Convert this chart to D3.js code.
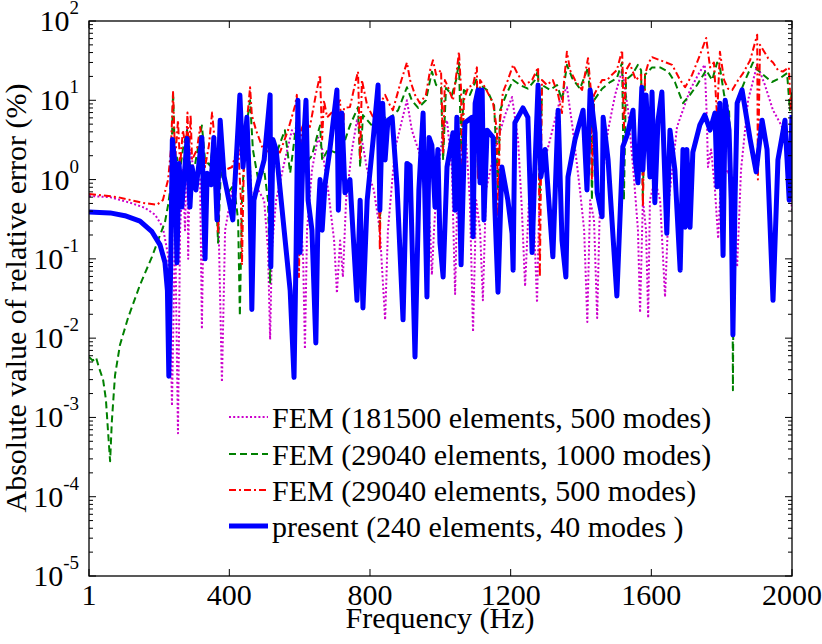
<!DOCTYPE html>
<html>
<head>
<meta charset="utf-8">
<script src="https://cdn.jsdelivr.net/npm/d3@7"></script>
<style>
  html, body { margin: 0; padding: 0; background: #fff; }
</style>
</head>
<body>
<svg id="chart" width="822" height="644"></svg>
<script>
// ---------------- data (frequency in Hz, absolute relative error in %) ----------------
const xTickValues = [1, 400, 800, 1200, 1600, 2000];
const yTickExponents = [-5, -4, -3, -2, -1, 0, 1, 2];
const seriesNames = [
  "FEM (181500 elements, 500 modes)",
  "FEM (29040 elements, 1000 modes)",
  "FEM (29040 elements, 500 modes)",
  "present (240 elements, 40 modes )"
];

const fem181500_500 = [
  [1,0.62],[61,0.6],[118,0.51],[160,0.44],[189,0.36],[211,0.25],[226,0.11],[231,0.03],[237,0.0014],
  [243,0.054],[246,0.55],[248,0.054],[254,0.00063],[260,0.23],[268,1.32],[274,0.23],[280,4.6],[283,0.1],
  [288,2.4],[302,1.15],[317,1.0],[322,0.013],[328,1.0],[345,1.15],[356,2.4],[368,0.55],[379,0.0028],
  [388,0.23],[408,0.74],[430,2.4],[445,4.6],[453,4.6],[464,0.55],[482,0.74],[499,0.55],[510,0.13],
  [516,0.0096],[521,0.13],[533,0.55],[558,1.77],[578,4.2],[592,3.2],[601,0.55],[610,0.097],[615,0.0073],
  [621,0.23],[635,1.32],[652,3.4],[664,2.4],[681,0.74],[698,0.17],[706,0.037],[715,0.17],[723,0.059],
  [732,0.55],[749,2.4],[763,5.6],[775,3.6],[792,1.32],[811,0.74],[828,0.23],[843,0.017],[851,0.23],
  [871,2.4],[891,5.6],[905,10],[919,4.2],[937,2.4],[956,1.32],[971,0.23],[976,0.063],[982,0.23],
  [991,1.0],[1008,4.2],[1019,5.6],[1033,1.32],[1042,0.036],[1050,1.32],[1070,5.2],[1084,0.55],
  [1093,0.012],[1102,0.55],[1113,0.23],[1121,0.03],[1130,0.74],[1155,2.4],[1184,6.5],[1204,11],
  [1221,3.2],[1232,0.41],[1241,0.045],[1252,0.55],[1266,0.31],[1275,0.028],[1283,1.0],[1312,3.2],
  [1340,10],[1360,14.6],[1377,4.2],[1397,0.74],[1409,0.23],[1418,0.016],[1426,0.55],[1437,0.31],
  [1446,0.018],[1454,0.55],[1477,4.2],[1497,11.7],[1517,24],[1534,7.5],[1551,1.0],[1562,0.23],
  [1568,0.021],[1576,0.55],[1585,0.23],[1591,0.018],[1596,0.55],[1610,1.0],[1625,0.55],[1639,0.033],
  [1650,0.55],[1673,4.6],[1710,13.5],[1738,23],[1752,28],[1758,5.6],[1761,1.44],[1770,2.4],[1781,0.74],
  [1790,0.18],[1798,1.0],[1818,1.32],[1832,0.55],[1844,0.079],[1855,1.32],[1875,10],[1901,28],
  [1923,15.6],[1946,7.5],[1969,4.9],[1986,3.2],[2000,0.41]
];

const fem29040_1000 = [
  [1,0.0058],[12,0.0052],[21,0.0057],[29,0.0043],[41,0.003],[49,0.0017],[55,0.00068],[61,0.00028],
  [66,0.0009],[75,0.0034],[89,0.0082],[112,0.018],[146,0.047],[180,0.106],[203,0.2],[217,0.29],
  [226,0.48],[234,0.86],[240,12.7],[246,1.5],[251,1.9],[260,1.32],[268,2.4],[280,4.2],[288,1.5],
  [302,1.5],[322,4.8],[331,1.77],[345,1.5],[356,3.2],[368,0.16],[376,1.32],[396,0.68],[413,0.86],
  [425,0.31],[430,0.019],[436,0.55],[447,4.2],[459,10],[467,2.4],[482,1.0],[499,1.32],[510,0.55],
  [516,0.05],[521,1.0],[538,2.4],[558,4.2],[573,1.21],[592,5.6],[601,1.0],[612,1.5],[635,2.0],
  [652,3.9],[658,4.8],[664,1.77],[681,2.4],[700,2.2],[720,2.4],[743,4.8],[766,8.2],[772,1.44],
  [780,6.5],[809,4.6],[823,8.0],[828,0.23],[834,6.5],[851,5.6],[880,7.5],[905,14.6],[919,10],
  [937,8.0],[959,10],[976,23],[988,15.6],[1002,14.6],[1008,1.77],[1016,14.3],[1033,11.7],[1045,18],
  [1053,30],[1059,2.4],[1067,13.5],[1084,11.7],[1104,19],[1107,1.32],[1113,15.6],[1133,13.5],
  [1153,8.6],[1164,0.74],[1170,7.5],[1187,11.7],[1207,18],[1227,15.6],[1249,14],[1269,18],[1278,24],
  [1283,0.55],[1289,15.6],[1312,13.5],[1332,15.6],[1346,10],[1360,28],[1375,19],[1397,14],[1420,26],
  [1428,7.5],[1431,0.55],[1437,10],[1460,14],[1483,17],[1502,19],[1517,30],[1522,0.55],[1528,18],
  [1545,21],[1562,28],[1571,24],[1576,0.55],[1582,21],[1602,26],[1625,26],[1648,23],[1667,17],
  [1690,9.2],[1710,11.7],[1730,15.6],[1756,24],[1773,18],[1787,30],[1795,26],[1807,11.7],[1821,7.5],
  [1830,0.55],[1832,0.0022],[1835,0.55],[1844,10],[1867,18],[1889,30],[1903,24],[1918,21],[1943,17],
  [1966,19],[1986,22],[1994,7.5],[2000,13.5]
];

const fem29040_500 = [
  [1,0.66],[83,0.6],[152,0.51],[194,0.48],[211,0.55],[226,1.0],[234,2.4],[240,12.7],[246,1.77],
  [254,5.6],[260,1.5],[268,4.2],[277,2.4],[281,7],[285,1.77],[290,6.5],[294,1.77],[308,2.4],[317,4.6],
  [325,2.4],[331,1.44],[342,2.7],[351,7],[357,3.6],[368,0.21],[374,3.2],[388,1.32],[408,1.44],
  [425,2.7],[433,0.55],[436,0.084],[442,2.4],[453,7.5],[459,14.6],[464,6.5],[476,4.2],[496,2.4],
  [516,2.2],[530,2.3],[544,2.2],[567,4.2],[587,8.6],[592,11.7],[598,0.059],[604,4.2],[615,5.6],
  [629,4.6],[646,11.7],[658,21],[664,3.2],[669,10],[678,6.1],[698,7.5],[715,10],[721,1.44],[726,8],
  [743,8.2],[760,18],[766,23],[772,1.77],[777,18],[792,8.6],[809,6.1],[823,10],[828,0.13],[834,10],
  [843,11.7],[857,8.6],[865,7.5],[885,15.6],[905,30],[914,18],[928,11.7],[942,9.2],[959,11.7],[971,24],
  [979,32],[988,21],[1002,24],[1008,2.2],[1013,18],[1022,14.6],[1036,10],[1047,24],[1053,41],
  [1059,13.5],[1062,0.81],[1067,10],[1079,14.6],[1093,15.6],[1104,26],[1107,1.0],[1113,18],
  [1127,14.6],[1150,9.2],[1161,4.2],[1164,0.34],[1170,5.6],[1178,12.7],[1192,18],[1207,28],[1221,21],
  [1241,15.6],[1261,18],[1278,26],[1283,0.059],[1289,18],[1303,15.6],[1320,18],[1335,11.7],[1346,6.9],
  [1352,18],[1360,41],[1369,24],[1383,18],[1403,13.5],[1420,34],[1428,13.5],[1431,1.0],[1437,11.7],
  [1460,18],[1474,18],[1488,21],[1502,24],[1517,43],[1522,4.5],[1528,24],[1539,29],[1556,18],[1571,21],
  [1576,0.45],[1582,21],[1591,29],[1602,35],[1625,32],[1642,30],[1659,28],[1682,18],[1696,14.6],
  [1716,21],[1738,37],[1756,61],[1767,26],[1778,30],[1787,6.1],[1795,41],[1807,18],[1818,14],
  [1830,13.5],[1847,18],[1861,22],[1881,32],[1901,67],[1903,1.0],[1909,50],[1918,43],[1932,34],
  [1946,30],[1960,24],[1974,23],[1991,26],[1997,7.5],[2000,11.7]
];

const present240_40 = [
  [1,0.39],[61,0.38],[103,0.35],[146,0.30],[180,0.22],[203,0.15],[217,0.09],[224,0.04],[228,0.0033],
  [234,0.13],[238,3.2],[246,1.5],[251,0.089],[257,1.6],[265,0.45],[280,3.3],[288,0.45],[294,1.44],
  [305,0.74],[322,3.4],[331,0.1],[337,1.2],[348,0.86],[356,3.4],[365,0.31],[374,5.6],[385,1.1],
  [410,0.31],[430,11.7],[439,1.44],[450,6.1],[459,0.55],[464,0.023],[470,0.55],[479,0.81],[499,1.77],
  [516,11.7],[518,0.079],[524,3.2],[533,2.4],[553,0.31],[573,0.04],[584,0.0032],[590,0.13],[595,10],
  [601,0.12],[610,2.4],[618,10],[624,0.55],[635,0.23],[646,0.0087],[652,0.31],[658,1.0],[664,0.23],
  [672,0.86],[686,2.4],[706,13.5],[710,0.41],[720,6.9],[729,0.68],[743,1.0],[763,0.03],[772,0.55],
  [780,0.024],[792,0.55],[809,3.2],[823,15.6],[828,0.41],[836,9.2],[843,1.77],[851,5.6],[863,6.1],
  [877,0.81],[894,0.017],[905,1.6],[914,1.5],[928,0.0058],[939,0.74],[951,6.9],[962,0.033],[968,3.4],
  [976,2.7],[985,0.45],[993,2.4],[999,0.16],[1008,0.059],[1019,1.44],[1036,3.9],[1042,0.41],[1047,6.1],
  [1053,1.3],[1059,0.084],[1070,5.2],[1090,6.1],[1093,0.19],[1099,9.2],[1107,13.5],[1113,0.91],
  [1119,13.5],[1124,0.31],[1133,4.2],[1150,3.4],[1155,0.45],[1164,0.038],[1175,1.44],[1192,0.55],
  [1204,0.21],[1207,0.072],[1212,5.2],[1235,8.0],[1249,6.1],[1261,0.12],[1269,1.44],[1278,15.6],
  [1286,1.08],[1298,2.4],[1320,0.106],[1335,7.5],[1346,0.17],[1357,0.059],[1363,1.08],[1383,3.2],
  [1406,7.5],[1417,0.74],[1426,13.5],[1440,3.9],[1446,0.68],[1460,0.34],[1463,6.1],[1477,1.77],
  [1502,0.034],[1519,2.6],[1531,3.6],[1548,7.5],[1554,1.77],[1562,0.91],[1573,14.6],[1576,1.32],
  [1585,11.7],[1596,1.08],[1602,12.7],[1610,0.51],[1619,5.6],[1630,12.7],[1644,0.21],[1653,4.2],
  [1667,1.32],[1682,0.072],[1690,2.4],[1696,0.25],[1701,2.4],[1710,0.25],[1718,2.2],[1738,4.9],
  [1752,6.5],[1767,4.2],[1781,6.9],[1787,0.81],[1795,9.2],[1804,0.11],[1810,10],[1821,4.2],[1827,0.55],
  [1832,0.011],[1838,0.55],[1844,9.2],[1858,13.5],[1881,3.2],[1898,1.25],[1915,5.6],[1929,2.4],
  [1946,0.03],[1960,1.77],[1980,5.6],[1992,0.55],[2000,6.5]
];

// ---------------- layout ----------------
const FONT = "'Liberation Serif', 'Times New Roman', Tinos, 'DejaVu Serif', serif";
const svg = d3.select("#chart").attr("font-family", FONT);
const margin = { left: 89, top: 21, right: 792, bottom: 576 };
const x = d3.scaleLinear().domain([1, 2000]).range([margin.left, margin.right]);
const y = d3.scaleLog().domain([1e-5, 100]).range([margin.bottom, margin.top]);

svg.append("defs").append("clipPath").attr("id", "plotclip")
  .append("rect").attr("x", margin.left).attr("y", margin.top)
  .attr("width", margin.right - margin.left).attr("height", margin.bottom - margin.top);

const line = d3.line().x(d => x(d[0])).y(d => y(d[1])).curve(d3.curveLinear);

const styles = [
  { data: fem181500_500, color: "#cc00cc", width: 2, dash: "2,2.2" },
  { data: fem29040_1000, color: "#008000", width: 2, dash: "7,4" },
  { data: fem29040_500,  color: "#ff0000", width: 2, dash: "7,3,2,3" },
  { data: present240_40, color: "#0000ff", width: 5, dash: null }
];

const plot = svg.append("g").attr("clip-path", "url(#plotclip)");
styles.forEach(s => {
  plot.append("path").datum(s.data)
    .attr("d", line)
    .attr("fill", "none")
    .attr("stroke", s.color)
    .attr("stroke-width", s.width)
    .attr("stroke-linejoin", "round")
    .attr("stroke-dasharray", s.dash);
});

// ---------------- axes (box with inward ticks) ----------------
const axes = svg.append("g").attr("stroke", "#000").attr("fill", "none");
axes.append("rect")
  .attr("x", margin.left).attr("y", margin.top)
  .attr("width", margin.right - margin.left).attr("height", margin.bottom - margin.top)
  .attr("stroke-width", 1.3);

xTickValues.forEach(v => {
  const px = x(v);
  axes.append("line").attr("x1", px).attr("x2", px).attr("y1", margin.bottom).attr("y2", margin.bottom - 7).attr("stroke-width", 1);
  axes.append("line").attr("x1", px).attr("x2", px).attr("y1", margin.top).attr("y2", margin.top + 7).attr("stroke-width", 1);
});

yTickExponents.forEach(e => {
  const major = Math.pow(10, e);
  const py = y(major);
  axes.append("line").attr("x1", margin.left).attr("x2", margin.left + 7).attr("y1", py).attr("y2", py).attr("stroke-width", 1);
  axes.append("line").attr("x1", margin.right).attr("x2", margin.right - 7).attr("y1", py).attr("y2", py).attr("stroke-width", 1);
  if (e < 2) {
    for (let k = 2; k <= 9; k++) {
      const my = y(k * major);
      axes.append("line").attr("x1", margin.left).attr("x2", margin.left + 4).attr("y1", my).attr("y2", my).attr("stroke-width", 1);
      axes.append("line").attr("x1", margin.right).attr("x2", margin.right - 4).attr("y1", my).attr("y2", my).attr("stroke-width", 1);
    }
  }
});

// tick labels
svg.append("g").selectAll("text").data(xTickValues).join("text")
  .attr("font-family", FONT)
  .attr("x", d => x(d)).attr("y", 605)
  .attr("text-anchor", "middle").attr("font-size", 30)
  .text(d => d);

const yl = svg.append("g").selectAll("text").data(yTickExponents).join("text")
  .attr("font-family", FONT)
  .attr("x", 79).attr("y", d => y(Math.pow(10, d)) + 10)
  .attr("text-anchor", "end").attr("font-size", 30);
yl.append("tspan").text("10");
yl.append("tspan").attr("dy", -17).attr("font-size", 19).text(d => String(d));

// axis titles
svg.append("text").attr("font-family", FONT).attr("x", 440).attr("y", 628).attr("text-anchor", "middle")
  .attr("font-size", 30).text("Frequency (Hz)");
svg.append("text").attr("font-family", FONT).attr("transform", "translate(26,298) rotate(-90)")
  .attr("text-anchor", "middle").attr("font-size", 30)
  .text("Absolute value of relative error (%)");

// ---------------- legend ----------------
const legend = svg.append("g");
const legendY = [417, 454, 490, 526];
styles.forEach((s, i) => {
  legend.append("line")
    .attr("x1", 229).attr("x2", 268).attr("y1", legendY[i]).attr("y2", legendY[i])
    .attr("stroke", s.color).attr("stroke-width", s.width)
    .attr("stroke-dasharray", s.dash);
  legend.append("text").attr("font-family", FONT).attr("x", 272).attr("y", legendY[i] + 11)
    .attr("font-size", 30).text(seriesNames[i]);
});
</script>
</body>
</html>
